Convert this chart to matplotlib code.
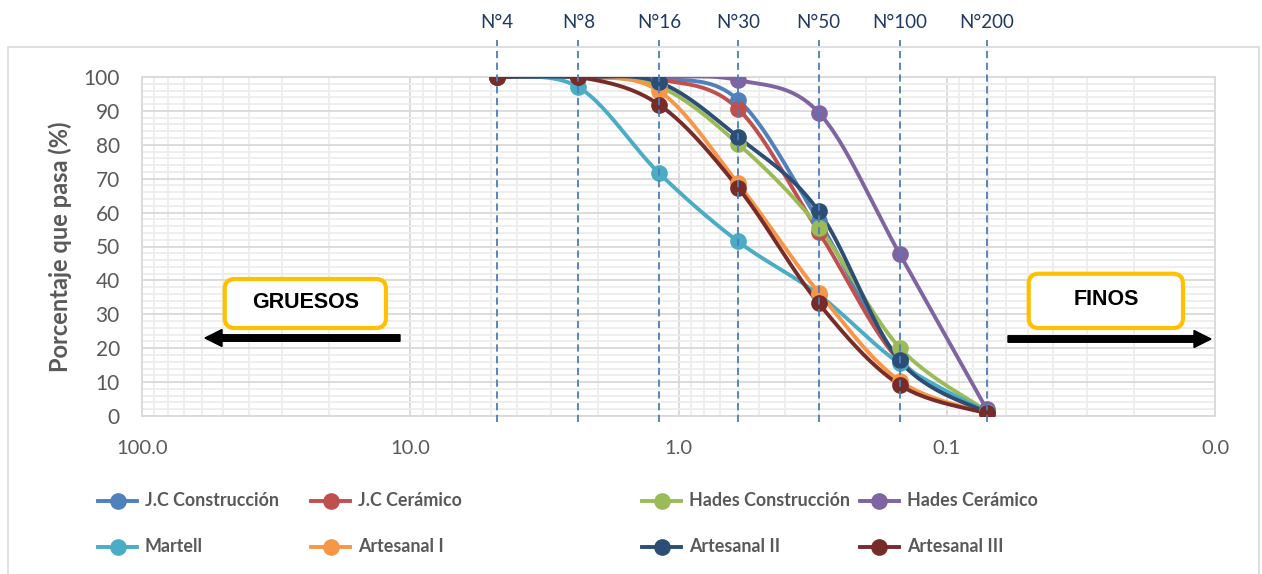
import numpy as np
import matplotlib
matplotlib.use("Agg")
import matplotlib.pyplot as plt
from matplotlib.lines import Line2D
from matplotlib.patches import FancyBboxPatch, FancyArrow, Rectangle
from matplotlib.transforms import blended_transform_factory
from matplotlib.ticker import FixedLocator, FuncFormatter

plt.rcParams['font.family'] = ['Lato', 'DejaVu Sans']

# abertura de tamices (mm) y nombre del tamiz
tamices = ['N°4', 'N°8', 'N°16', 'N°30', 'N°50', 'N°100', 'N°200']
abertura = [4.75, 2.36, 1.18, 0.60, 0.30, 0.15, 0.071]

# porcentaje que pasa por cada agregado
jc_construccion = [100, 100, 99.6, 93.3, 57.5, 16.8, 1.0]
jc_ceramico = [100, 100, 99.3, 90.6, 54.3, 16.2, 0.8]
hades_construccion = [100, 100, 97.2, 80.3, 55.6, 20.2, 1.5]
hades_ceramico = [100, 100, 100, 99.1, 89.5, 47.9, 2.0]
martell = [100, 97.0, 71.6, 51.5, 35.8, 15.5, 1.2]
artesanal_1 = [100, 100, 95.8, 68.6, 36.4, 10.4, 0.8]
artesanal_2 = [100, 100, 98.4, 82.3, 60.4, 16.4, 1.0]
artesanal_3 = [100, 100, 91.8, 67.4, 33.2, 9.2, 0.8]

nombres = ['J.C Construcción', 'J.C Cerámico', 'Hades Construcción', 'Hades Cerámico',
           'Martell', 'Artesanal I', 'Artesanal II', 'Artesanal III']
series = [jc_construccion, jc_ceramico, hades_construccion, hades_ceramico,
          martell, artesanal_1, artesanal_2, artesanal_3]
colores = ['#4F81BD', '#C0504D', '#9BBB59', '#8064A2',
           '#4BACC6', '#F79646', '#2C4D75', '#772C2A']


def suavizar(xs, ys, n=40):
    # curva tipo Excel (bezier catmull-rom) en escala logaritmica
    pts = np.column_stack([np.log10(xs), ys])
    ext = np.vstack([pts[0], pts, pts[-1]])
    t = np.linspace(0, 1, n)[:, None]
    curva = []
    for i in range(len(pts) - 1):
        p0, p1, p2, p3 = ext[i], ext[i + 1], ext[i + 2], ext[i + 3]
        c1 = p1 + (p2 - p0) / 6
        c2 = p2 - (p3 - p1) / 6
        seg = (1 - t) ** 3 * p1 + 3 * (1 - t) ** 2 * t * c1 + 3 * (1 - t) * t ** 2 * c2 + t ** 3 * p2
        curva.append(seg if i == 0 else seg[1:])
    curva = np.vstack(curva)
    return 10 ** curva[:, 0], curva[:, 1]


W, H = 1262, 574
fig = plt.figure(figsize=(W / 100, H / 100), dpi=100)
ax = fig.add_axes([142 / W, 1 - 416 / H, (1215 - 142) / W, (416 - 77) / H])

gris = '#595959'
ax.set_xscale('log')
ax.set_xlim(100, 0.01)
ax.set_ylim(0, 100)
ax.xaxis.set_major_locator(FixedLocator([100, 10, 1, 0.1, 0.01]))
ax.xaxis.set_minor_locator(FixedLocator([m * 10.0 ** e for e in range(-2, 2) for m in range(2, 10)]))
ax.xaxis.set_major_formatter(FuncFormatter(lambda v, p: '%.1f' % v))
ax.xaxis.set_minor_formatter(FuncFormatter(lambda v, p: ''))
ax.set_yticks(range(0, 101, 10))
ax.set_yticks(range(0, 101, 2), minor=True)
ax.grid(which='major', color='#D9D9D9', lw=1.3)
ax.grid(which='minor', color='#EDEDED', lw=1.3)
ax.set_axisbelow(True)
ax.tick_params(which='both', length=0)
ax.tick_params(axis='x', pad=17, labelsize=14.5, labelcolor=gris)
ax.tick_params(axis='y', pad=16, labelsize=15, labelcolor=gris)
for s in ax.spines.values():
    s.set_color('#D9D9D9')
    s.set_linewidth(1.3)

for ys, c in zip(series, colores):
    xs_s, ys_s = suavizar(abertura, ys)
    ax.plot(xs_s, ys_s, color=c, lw=2.8, solid_capstyle='round', zorder=3)
    ax.plot(abertura, ys, 'o', color=c, ms=11, zorder=4)

# lineas de tamices
tr = blended_transform_factory(ax.transData, ax.transAxes)
for nom, a in zip(tamices, abertura):
    ax.plot([a, a], [-0.018, 1.109], transform=tr, color='#4A7EBB', lw=1.3,
            ls=(0, (4, 2.5)), clip_on=False, zorder=5)
    ax.text(a, 1.162, nom, transform=tr, ha='center', va='center',
            fontsize=13.5, color='#1F3864')

fig.text(60 / W, 1 - 247 / H, 'Porcentaje que pasa (%)', rotation=90, ha='center',
         va='center', fontsize=17, fontweight='bold', color=gris)

# recuadro del grafico
inch = fig.dpi_scale_trans
fig.add_artist(Rectangle((0.08, -0.06), 12.51, 5.33, transform=inch, fill=False,
                         ec='#D9D9D9', lw=1.2))

# cajas GRUESOS / FINOS con flechas
for x0, y0, w, h, txt in [(2.247, 2.46, 1.613, 0.49, 'GRUESOS'),
                          (10.287, 2.46, 1.543, 0.543, 'FINOS')]:
    fig.add_artist(FancyBboxPatch((x0, y0), w, h, boxstyle='round,pad=0,rounding_size=0.1',
                                  transform=inch, fc='white', ec='#FFC000', lw=3, zorder=6))
    fig.text(x0 + w / 2, y0 + h / 2 + 0.01, txt, transform=inch, ha='center', va='center',
             fontsize=15.5, fontweight='bold', family='Liberation Sans', zorder=7)
fig.add_artist(FancyArrow(4.00, 2.36, -1.95, 0, width=0.065, head_width=0.17, head_length=0.17,
                          length_includes_head=True, transform=inch, color='black', zorder=6))
fig.add_artist(FancyArrow(10.08, 2.35, 2.03, 0, width=0.065, head_width=0.17, head_length=0.17,
                          length_includes_head=True, transform=inch, color='black', zorder=6))

# leyenda en dos filas
col_x = [98, 311, 642, 860]
fila_y = [501, 547]
for i, (nom, c) in enumerate(zip(nombres, colores)):
    x0 = col_x[i % 4]
    y = fila_y[i // 4]
    fig.add_artist(Line2D([x0 / W, (x0 + 19.5) / W, (x0 + 39) / W], [1 - y / H] * 3,
                          transform=fig.transFigure, color=c, lw=2.8, marker='o', ms=11,
                          markevery=[1]))
    fig.text((x0 + 47) / W, 1 - y / H, nom, ha='left', va='center', fontsize=12.9,
             fontweight='bold', color=gris)

fig.savefig('out.png', dpi=100)
